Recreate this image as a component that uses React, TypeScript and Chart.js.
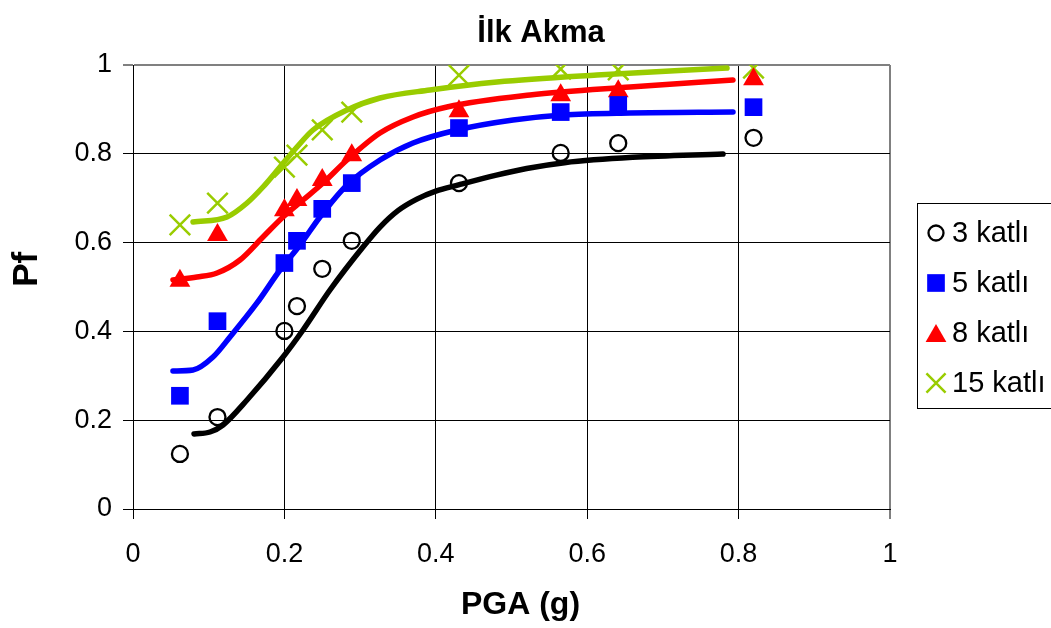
import React, { useEffect, useRef } from 'react';
import { Chart, registerables } from 'chart.js';

Chart.register(...registerables);

// ---------- data ----------
const chartTitle = 'İlk Akma';
const xAxisTitle = 'PGA (g)';
const yAxisTitle = 'Pf';
const seriesNames = ['3 katlı', '5 katlı', '8 katlı', '15 katlı'];
const xTickLabels = ['0', '0.2', '0.4', '0.6', '0.8', '1'];
const yTickLabels = ['0', '0.2', '0.4', '0.6', '0.8', '1'];

// observed points
const pga = [0.062, 0.1116, 0.2, 0.2166, 0.25, 0.289, 0.4306, 0.565, 0.641, 0.8197];
const pf3 = [0.124, 0.207, 0.401, 0.457, 0.541, 0.604, 0.734, 0.802, 0.824, 0.836];
const pf5 = [0.255, 0.423, 0.554, 0.604, 0.676, 0.734, 0.858, 0.894, 0.91, 0.905];
const pf8 = [0.514, 0.617, 0.673, 0.696, 0.741, 0.797, 0.896, 0.932, 0.941, 0.968];
const pf15 = [0.64, 0.689, 0.77, 0.797, 0.854, 0.894, 0.977, 0.991, 0.989, 0.993];

// fitted curves
const fit3X = [0.0806, 0.1017, 0.1189, 0.1506, 0.1982, 0.2246, 0.2602, 0.3038, 0.3263, 0.35, 0.375, 0.4, 0.43, 0.48, 0.52, 0.57, 0.66, 0.7794];
const fit3Y = [0.1689, 0.1734, 0.1892, 0.2455, 0.3423, 0.4032, 0.4932, 0.59, 0.635, 0.672, 0.698, 0.716, 0.73, 0.752, 0.767, 0.78, 0.792, 0.7995];
const fit5X = [0.0528, 0.0793, 0.1057, 0.1281, 0.1638, 0.1942, 0.2206, 0.247, 0.2827, 0.3263, 0.3699, 0.428, 0.502, 0.568, 0.6565, 0.7926];
const fit5Y = [0.3108, 0.3131, 0.3423, 0.3874, 0.464, 0.5383, 0.5946, 0.6577, 0.7297, 0.786, 0.8243, 0.8536, 0.8761, 0.8874, 0.8919, 0.8941];
const fit8X = [0.0528, 0.0845, 0.111, 0.1413, 0.1717, 0.1982, 0.2246, 0.251, 0.2827, 0.3263, 0.3699, 0.4148, 0.5244, 0.6565, 0.7926];
const fit8Y = [0.5158, 0.5225, 0.5315, 0.5608, 0.6126, 0.6577, 0.6959, 0.7342, 0.786, 0.8468, 0.8829, 0.9054, 0.9324, 0.9505, 0.9662];
const fit15X = [0.0793, 0.1242, 0.1506, 0.1717, 0.1942, 0.2166, 0.2378, 0.2827, 0.3263, 0.3923, 0.4808, 0.6129, 0.7847];
const fit15Y = [0.6464, 0.6577, 0.6892, 0.7252, 0.7703, 0.8153, 0.8536, 0.8986, 0.9257, 0.9437, 0.9617, 0.9775, 0.9932];

// ---------- styles ----------
const FONT = '"Liberation Sans", Arial, Helvetica, sans-serif';
const BLACK = '#000000';
const BLUE = '#0000FF';
const RED = '#FF0000';
const GREEN = '#99CC00';

type MarkerStyle = {
  pointStyle: string;
  radius: number;
  fill: string;
  stroke: string;
  lineWidth: number;
};

const markerStyles: MarkerStyle[] = [
  { pointStyle: 'circle', radius: 8, fill: 'rgba(0,0,0,0)', stroke: BLACK, lineWidth: 2.3 },
  { pointStyle: 'rect', radius: 12.5, fill: BLUE, stroke: BLUE, lineWidth: 0 },
  { pointStyle: 'triangle', radius: 12, fill: RED, stroke: RED, lineWidth: 0 },
  { pointStyle: 'crossRot', radius: 14.5, fill: GREEN, stroke: GREEN, lineWidth: 2.5 },
];
const curveColors = [BLACK, BLUE, RED, GREEN];

const toXY = (xs: number[], ys: number[]) => xs.map((x, i) => ({ x, y: ys[i] }));

function drawMarker(ctx: CanvasRenderingContext2D, m: MarkerStyle, x: number, y: number) {
  ctx.save();
  ctx.fillStyle = m.fill;
  ctx.strokeStyle = m.stroke;
  ctx.lineWidth = m.lineWidth;
  const r = m.radius;
  ctx.beginPath();
  if (m.pointStyle === 'circle') {
    ctx.arc(x, y, r, 0, Math.PI * 2);
    ctx.stroke();
  } else if (m.pointStyle === 'rect') {
    const s = r * Math.SQRT1_2;
    ctx.rect(x - s, y - s, 2 * s, 2 * s);
    ctx.fill();
  } else if (m.pointStyle === 'triangle') {
    const w = r * Math.sin(Math.PI / 3);
    ctx.moveTo(x, y - r);
    ctx.lineTo(x + w, y + r / 2);
    ctx.lineTo(x - w, y + r / 2);
    ctx.closePath();
    ctx.fill();
  } else {
    const o = r * Math.SQRT1_2;
    ctx.moveTo(x - o, y - o);
    ctx.lineTo(x + o, y + o);
    ctx.moveTo(x - o, y + o);
    ctx.lineTo(x + o, y - o);
    ctx.stroke();
  }
  ctx.restore();
}

const textPlugin = {
  id: 'texts',
  afterDraw(chart: any) {
    const ctx: CanvasRenderingContext2D = chart.ctx;
    const area = chart.chartArea;
    ctx.save();
    ctx.fillStyle = '#000';
    ctx.textBaseline = 'middle';
    ctx.textAlign = 'center';
    // chart title
    ctx.font = `bold 31px ${FONT}`;
    ctx.fillText(chartTitle, area.left + (area.right - area.left) * 0.539, 33);
    // x-axis title
    ctx.font = `bold 32px ${FONT}`;
    ctx.fillText(xAxisTitle, (area.left + area.right) / 2 + 9, 605);
    // y-axis title
    ctx.save();
    ctx.translate(27, area.top + (area.bottom - area.top) * 0.46);
    ctx.rotate(-Math.PI / 2);
    ctx.font = `bold 35px ${FONT}`;
    ctx.fillText(yAxisTitle, 0, 0);
    ctx.restore();

    // legend box
    const boxLeft = area.right + 27;
    const boxTop = 203;
    const boxH = 205;
    ctx.lineWidth = 1;
    ctx.strokeStyle = '#000';
    ctx.strokeRect(boxLeft + 0.5, boxTop + 0.5, 160, boxH);
    ctx.font = `29px ${FONT}`;
    ctx.textAlign = 'left';
    const rowY = [233, 283, 333, 383];
    seriesNames.forEach((name, i) => {
      const m = { ...markerStyles[i] };
      if (m.pointStyle === 'circle') m.radius = 7.5;
      if (m.pointStyle === 'crossRot') m.radius = 13.5;
      const my = m.pointStyle === 'triangle' ? rowY[i] + 3 : rowY[i];
      drawMarker(ctx, m, boxLeft + 19, my);
      ctx.fillStyle = '#000';
      ctx.fillText(name, boxLeft + 35, rowY[i] + 1);
    });
    ctx.restore();
  },
};

export default function App() {
  const ref = useRef<HTMLCanvasElement>(null);

  useEffect(() => {
    const canvas = ref.current;
    if (!canvas) return;

    const observed = [pf3, pf5, pf8, pf15];
    const fitsX = [fit3X, fit5X, fit8X, fit15X];
    const fitsY = [fit3Y, fit5Y, fit8Y, fit15Y];

    const pointDatasets = observed.map((ys, i) => {
      const m = markerStyles[i];
      return {
        label: seriesNames[i],
        data: toXY(pga, ys),
        showLine: false,
        pointStyle: m.pointStyle,
        pointRadius: m.radius,
        pointBackgroundColor: m.fill,
        pointBorderColor: m.stroke,
        pointBorderWidth: m.lineWidth,
        backgroundColor: m.fill,
        borderColor: m.stroke,
        order: 0,
      };
    });
    const curveDatasets = fitsX.map((xs, i) => ({
      label: seriesNames[i] + ' fit',
      data: toXY(xs, fitsY[i]),
      showLine: true,
      pointRadius: 0,
      borderColor: curveColors[i],
      backgroundColor: curveColors[i],
      borderWidth: 5.5,
      borderCapStyle: 'round',
      borderJoinStyle: 'round',
      cubicInterpolationMode: 'monotone',
      fill: false,
      order: 1,
    }));

    const gridColor = (ctx: any) => {
      const v = ctx.tick ? ctx.tick.value : null;
      return v === 1 ? '#808080' : '#000000';
    };
    const gridWidth = (ctx: any) => {
      const v = ctx.tick ? ctx.tick.value : null;
      return v === 1 ? 2 : 1;
    };

    const chart = new Chart(canvas, {
      type: 'scatter',
      data: { datasets: [...pointDatasets, ...curveDatasets] as any },
      plugins: [textPlugin],
      options: {
        responsive: false,
        animation: false,
        devicePixelRatio: 1,
        events: [],
        layout: { padding: { left: 0, right: 161, top: 65, bottom: 0 } },
        plugins: {
          legend: { display: false },
          title: { display: false },
          tooltip: { enabled: false },
        },
        scales: {
          x: {
            type: 'linear',
            min: 0,
            max: 1,
            afterFit: (scale: any) => {
              scale.height = 119;
            },
            ticks: {
              stepSize: 0.2,
              padding: 19,
              color: '#000',
              font: { family: FONT, size: 27 },
              callback: (_v: any, i: number) => xTickLabels[i],
            },
            grid: {
              color: gridColor,
              lineWidth: gridWidth,
              tickColor: '#000',
              tickLength: 10,
              tickWidth: 1,
            },
            border: { color: '#000', width: 1 },
          },
          y: {
            type: 'linear',
            min: 0,
            max: 1,
            afterFit: (scale: any) => {
              scale.width = 133;
            },
            ticks: {
              stepSize: 0.2,
              padding: 11,
              color: '#000',
              font: { family: FONT, size: 27 },
              callback: (_v: any, i: number) => yTickLabels[i],
            },
            grid: {
              color: gridColor,
              lineWidth: gridWidth,
              tickColor: '#000',
              tickLength: 10,
              tickWidth: 1,
            },
            border: { color: '#000', width: 1 },
          },
        },
      } as any,
    });

    return () => chart.destroy();
  }, []);

  return (
    <div style={{ position: 'absolute', left: 0, top: 0, width: 1051, height: 628, background: '#ffffff', overflow: 'hidden' }}>
      <canvas ref={ref} width={1051} height={628} style={{ display: 'block', width: 1051, height: 628 }} />
    </div>
  );
}
